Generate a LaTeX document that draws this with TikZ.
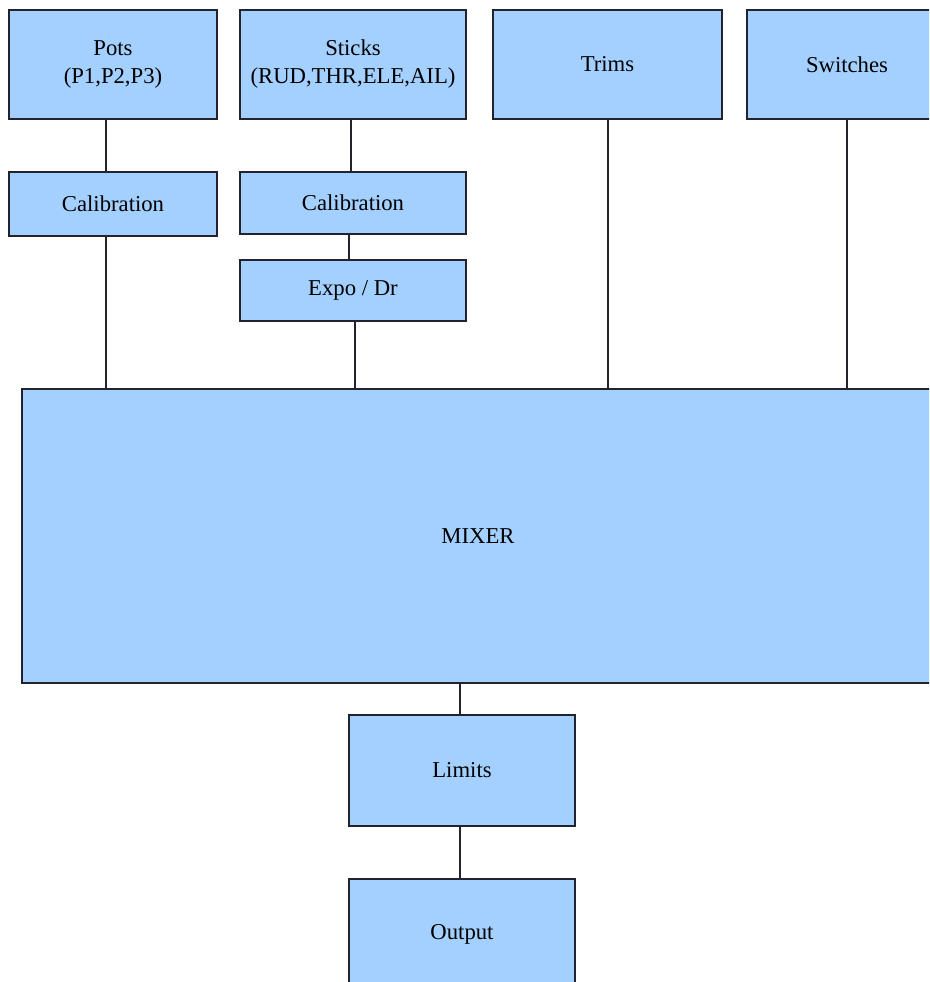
\documentclass[tikz,border=0pt]{standalone}
\usepackage{fontspec}
\newfontfamily\blockfont{Liberation Serif}
\definecolor{boxfill}{RGB}{163,208,255}
\definecolor{boxline}{RGB}{35,35,45}

\begin{document}
\begin{tikzpicture}[x=1pt,y=-1pt,
    block/.style={draw=boxline,fill=boxfill,line width=1.5pt,inner sep=0pt,
                  align=center,font=\blockfont\fontsize{22.7}{28}\selectfont},
    wire/.style={draw=boxline,line width=1.5pt}]

    % Page area
    \useasboundingbox (0,0) rectangle (929,982);
    \clip (0,0) rectangle (929,982);

    % Draw input blocks
    \node[block,minimum width=208pt,minimum height=109pt] (pots) at (113,64.5) {Pots\\(P1,P2,P3)};
    \node[block,minimum width=226pt,minimum height=109pt] (sticks) at (353,64.5) {Sticks\\(RUD,THR,ELE,AIL)};
    \node[block,minimum width=229pt,minimum height=109pt] (trims) at (607.5,64.5) {Trims};
    \node[block,minimum width=200pt,minimum height=109pt] (switches) at (847,64.5) {Switches};

    % Draw processing blocks
    \node[block,minimum width=208pt,minimum height=64pt] (potcal) at (113,204) {Calibration};
    \node[block,minimum width=226pt,minimum height=62pt] (stickcal) at (353,203) {Calibration};
    \node[block,minimum width=226pt,minimum height=61pt] (expo) at (353,290.5) {Expo / Dr};

    \node[block,minimum width=912pt,minimum height=294pt] (mixer) at (478,536) {MIXER};

    \node[block,minimum width=226pt,minimum height=111pt] (limits) at (462,770.5) {Limits};
    \node[block,minimum width=226pt,minimum height=111pt] (output) at (462,934.5) {Output};

    % Draw connections
    \draw[wire] ([xshift=-7]pots.south) -- ([xshift=-7]potcal.north);
    \draw[wire] ([xshift=-7]potcal.south) -- ([xshift=-7]potcal.south |- mixer.north);
    \draw[wire] ([xshift=-2]sticks.south) -- ([xshift=-2]stickcal.north);
    \draw[wire] ([xshift=-4]stickcal.south) -- ([xshift=-4]expo.north);
    \draw[wire] ([xshift=2]expo.south) -- ([xshift=2]expo.south |- mixer.north);
    \draw[wire] ([xshift=0.5]trims.south) -- ([xshift=0.5]trims.south |- mixer.north);
    \draw[wire] (switches.south) -- (switches.south |- mixer.north);
    \draw[wire] ([xshift=-2]limits.north |- mixer.south) -- ([xshift=-2]limits.north);
    \draw[wire] ([xshift=-2]limits.south) -- ([xshift=-2]output.north);

\end{tikzpicture}
\end{document}
